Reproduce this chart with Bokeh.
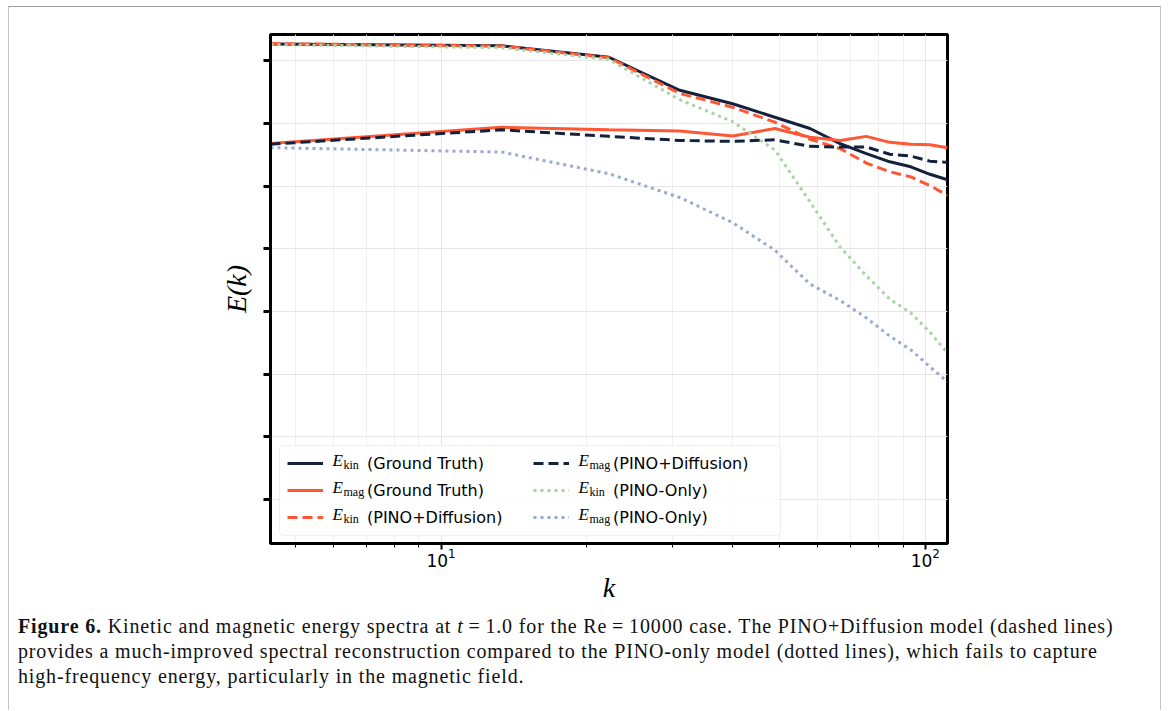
from bokeh.plotting import figure
from bokeh.models import (Range1d, FixedTicker, LogTickFormatter, CustomJSTickFormatter,
                          Legend, LegendItem, Label, Div, Column, BoxAnnotation)
from bokeh.embed import file_html
from bokeh.resources import INLINE

# ---------------- data ----------------
k = [4.444, 13.333, 22.222, 31.111, 40.0, 48.889, 57.778, 66.667, 75.556,
     84.444, 93.333, 102.222, 111.111]

ekin_gt = [1.86, 1.74, 1.14, 0.339, 0.2065, 0.126, 0.0832, 0.0479, 0.0331,
           0.0245, 0.0204, 0.0155, 0.0127]
emag_gt = [0.0479, 0.0871, 0.0794, 0.0759, 0.0631, 0.0832, 0.0603, 0.0537,
           0.0624, 0.0501, 0.0468, 0.0457, 0.0412]
ekin_pd = [1.88, 1.72, 1.12, 0.302, 0.182, 0.105, 0.0562, 0.0398, 0.0234,
           0.0170, 0.0141, 0.0102, 0.00716]
emag_pd = [0.0468, 0.0794, 0.0624, 0.0537, 0.0519, 0.0550, 0.0432, 0.0422,
           0.0422, 0.0324, 0.0302, 0.0251, 0.0240]
ekin_po = [1.82, 1.62, 1.047, 0.240, 0.107, 0.0380, 0.00562, 0.00107,
           0.000372, 0.000158, 0.0000955, 0.0000468, 0.0000219]
emag_po = [0.0412, 0.0351, 0.0158, 0.00661, 0.00263, 0.000955, 0.000275,
           0.000151, 0.0000794, 0.0000407, 0.0000245, 0.0000132, 0.00000759]

x_major = [10, 100]
x_minor = [5, 6, 7, 8, 9, 20, 30, 40, 50, 60, 70, 80, 90]
y_major = [1e-7, 1e-6, 1e-5, 1e-4, 1e-3, 1e-2, 1e-1, 1]

legend_subs = ["kin", "mag", "kin", "mag", "kin", "mag"]
legend_rest = ["(Ground Truth)", "(Ground Truth)", "(PINO+Diffusion)",
               "(PINO+Diffusion)", "(PINO-Only)", "(PINO-Only)"]

NAVY = "#14213d"
ORANGE = "#ff5733"
GREEN = "#a9d3a4"
BLUE = "#9aa9d4"

# ---------------- figure ----------------
FW, FH = 677, 509
BL, BT, BB = 261, 27, 66
TOTAL_W = 1151
p = figure(frame_width=FW, frame_height=FH,
           min_border_left=BL, min_border_top=BT, min_border_bottom=BB,
           min_border_right=TOTAL_W - BL - FW,
           x_axis_type="log", y_axis_type="log",
           x_range=Range1d(4.444, 111.111), y_range=Range1d(2.0e-8, 2.63),
           output_backend="svg", toolbar_location=None)
p.background_fill_color = "white"
p.border_fill_color = "white"
p.outline_line_color = "black"
p.outline_line_width = 3
p.outline_line_alpha = 1

xt = FixedTicker(ticks=x_major, minor_ticks=x_minor)
yt = FixedTicker(ticks=y_major, minor_ticks=[])
p.xaxis.ticker = xt
p.yaxis.ticker = yt
p.xaxis.formatter = LogTickFormatter()
p.yaxis.formatter = CustomJSTickFormatter(code="return ''")

for ax in (p.xaxis, p.yaxis):
    ax.axis_line_color = "black"
    ax.axis_line_width = 3
    ax.major_tick_line_color = "black"
    ax.major_tick_in = 0

p.xaxis.major_tick_out = 6
p.xaxis.major_tick_line_width = 2
p.xaxis.minor_tick_out = 4
p.xaxis.minor_tick_in = 0
p.xaxis.minor_tick_line_width = 1
p.xaxis.minor_tick_line_color = "black"
p.xaxis.major_label_text_font = "DejaVu Sans"
p.xaxis.major_label_text_font_size = "17px"
p.xaxis.major_label_text_color = "black"
p.xaxis.major_label_standoff = -2
p.xaxis.axis_label = "k"
p.xaxis.axis_label_text_font = "Liberation Serif"
p.xaxis.axis_label_text_font_style = "italic"
p.xaxis.axis_label_text_font_size = "28px"
p.xaxis.axis_label_text_color = "black"
p.xaxis.axis_label_standoff = 2

p.yaxis.major_tick_out = 7
p.yaxis.major_tick_line_width = 3
p.yaxis.minor_tick_line_color = None
p.yaxis.major_label_standoff = 0
p.yaxis.axis_label = "E(k)"
p.yaxis.axis_label_text_font = "Liberation Serif"
p.yaxis.axis_label_text_font_style = "italic"
p.yaxis.axis_label_text_font_size = "28px"
p.yaxis.axis_label_text_color = "black"
p.yaxis.axis_label_standoff = 12

p.xgrid.ticker = xt
p.ygrid.ticker = yt
p.xgrid.grid_line_color = "#e6e6e6"
p.xgrid.minor_grid_line_color = "#efefef"
p.ygrid.grid_line_color = "#e6e6e6"
p.xgrid.grid_line_width = 1
p.ygrid.grid_line_width = 1

# ---------------- legend (geometry) ----------------
PAD, GW, GH, LH, SP, LW, STAND = 8, 36, 20, 20, 7, 159, 44
LX, LY = 9, 8
box_h = 2 * PAD + 3 * LH + 2 * SP
box_w = 2 * PAD + 2 * (GW + STAND + LW) + SP

# white legend panel under the lines but above the grid
p.add_layout(BoxAnnotation(left=LX, right=LX + box_w, bottom=LY, top=LY + box_h,
                           left_units="screen", right_units="screen",
                           bottom_units="screen", top_units="screen",
                           fill_color="white", fill_alpha=0.85,
                           line_color="#cccccc", line_width=1, border_radius=4,
                           level="underlay", editable=False))

# ---------------- lines ----------------
r1 = p.line(k, ekin_gt, line_color=NAVY, line_width=3)
r2 = p.line(k, emag_gt, line_color=ORANGE, line_width=3)
r3 = p.line(k, ekin_pd, line_color=ORANGE, line_width=3, line_dash="10 5")
r4 = p.line(k, emag_pd, line_color=NAVY, line_width=3, line_dash="10 5")
r5 = p.line(k, ekin_po, line_color=GREEN, line_width=3, line_dash="3 4")
r6 = p.line(k, emag_po, line_color=BLUE, line_width=3, line_dash="3 4")
rends = [r1, r2, r3, r4, r5, r6]

# (padding collapses to 0 when the legend has no border, so offset by PAD)
legend = Legend(items=[LegendItem(label=t, renderers=[r]) for t, r in zip(legend_rest, rends)],
                location=(LX + PAD, LY + PAD), orientation="vertical", nrows=3,
                padding=0, spacing=SP, margin=0,
                glyph_width=GW, glyph_height=GH, label_height=LH, label_width=LW,
                label_standoff=STAND,
                label_text_font="DejaVu Sans", label_text_font_size="16px",
                label_text_color="black",
                border_line_color=None, background_fill_alpha=0.0)
p.add_layout(legend, "center")

for i, sub in enumerate(legend_subs):
    col, row = divmod(i, 3)
    gx = LX + PAD + col * (GW + STAND + LW + SP)
    rc = LY + box_h - PAD - LH / 2 - row * (LH + SP)
    ex = gx + GW + 9
    p.add_layout(Label(x=ex, y=rc + 3, x_units="screen", y_units="screen", text="E",
                       text_font="Liberation Serif", text_font_style="italic",
                       text_font_size="17px", text_baseline="alphabetic", text_color="black"))
    p.add_layout(Label(x=ex + 11, y=rc - 1, x_units="screen", y_units="screen", text=sub,
                       text_font="Liberation Serif", text_font_size="12px",
                       text_baseline="alphabetic", text_color="black"))

# ---------------- caption ----------------
caption = Div(text=(
    '<div style="font-family:\'Liberation Serif\';font-size:20px;line-height:25px;'
    'letter-spacing:0.85px;color:#111;white-space:nowrap;padding-left:9px;padding-top:5px;">'
    '<b>Figure 6.</b> Kinetic and magnetic energy spectra at <i>t</i>&thinsp;=&thinsp;1.0 for the '
    'Re&thinsp;=&thinsp;10000 case. The PINO+Diffusion model (dashed lines)<br>'
    'provides a much-improved spectral reconstruction compared to the PINO-only model '
    '(dotted lines), which fails to capture<br>'
    'high-frequency energy, particularly in the magnetic field.</div>'),
    width=TOTAL_W, height=101, margin=(0, 0, 0, 0))

layout = Column(children=[p, caption],
                styles={"margin-left": "8px", "margin-top": "6px",
                        "border-left": "1px solid #c4c4c4", "border-top": "1px solid #a0a0a0",
                        "border-right": "1px solid #c4c4c4", "background-color": "white"})

open("out.html", "w").write(file_html(layout, INLINE))
